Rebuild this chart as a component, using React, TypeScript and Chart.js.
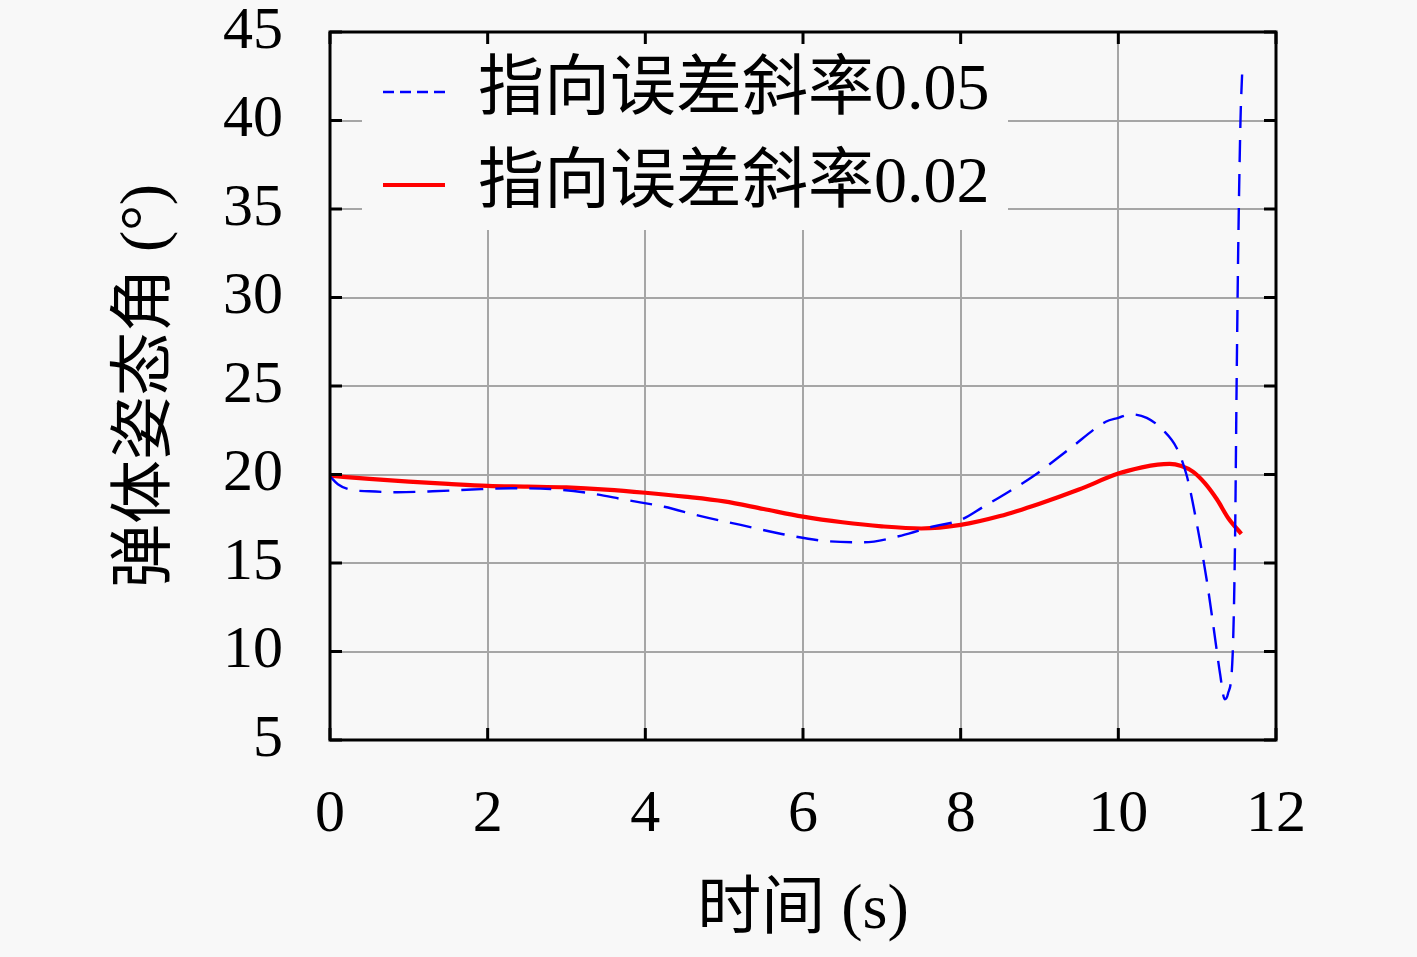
import React, { useEffect, useRef } from "react";
import { Chart, registerables } from "chart.js";

Chart.register(...registerables);

const timeSlope005 = [0, 0.1, 0.25, 0.5, 0.85, 1.3, 1.8, 2.3, 2.8, 3.3, 3.76, 4.24, 4.69, 5.21, 5.73, 6.25, 6.77, 7.25, 7.64, 8.0, 8.29, 8.6, 8.92, 9.39, 9.84, 10.0, 10.15, 10.36, 10.57, 10.74, 10.87, 10.99, 11.12, 11.21, 11.29, 11.35, 11.39, 11.45, 11.48, 11.5, 11.52, 11.55, 11.57];
const angleSlope005 = [19.9, 19.45, 19.15, 19.05, 19.0, 19.05, 19.15, 19.22, 19.18, 18.94, 18.56, 18.18, 17.66, 17.15, 16.64, 16.26, 16.17, 16.55, 17.05, 17.43, 18.18, 19.0, 19.9, 21.48, 22.98, 23.2, 23.4, 23.2, 22.5, 21.5, 19.9, 17.35, 14.07, 11.3, 8.76, 7.3, 7.6, 9.8, 16.1, 24.9, 32.5, 40.1, 42.6];

const timeSlope002 = [0, 0.5, 1.0, 1.5, 2.0, 2.5, 3.0, 3.5, 4.0, 4.5, 5.0, 5.5, 6.0, 6.5, 7.0, 7.5, 8.0, 8.5, 9.0, 9.5, 10.0, 10.3, 10.5, 10.65, 10.8, 10.95, 11.1, 11.25, 11.4, 11.56];
const angleSlope002 = [19.93, 19.75, 19.6, 19.47, 19.36, 19.32, 19.27, 19.15, 18.97, 18.75, 18.48, 18.05, 17.62, 17.3, 17.07, 16.95, 17.15, 17.65, 18.35, 19.15, 20.05, 20.4, 20.56, 20.6, 20.48, 20.15, 19.5, 18.6, 17.5, 16.65];

const seriesLabels = ["指向误差斜率0.05", "指向误差斜率0.02"];
const xTitle = "时间 (s)";
const yTitle = "弹体姿态角 (°)";
const xRange = [0, 12, 2];
const yRange = [5, 45, 5];

const FONT = "'Liberation Serif', 'Noto Sans CJK SC', serif";
const BG = "#f8f8f8";

const toPoints = (xs: number[], ys: number[]) => xs.map((x, i) => ({ x, y: ys[i] }));

const framePlugin = {
  id: "framePlugin",
  beforeDraw(chart: any) {
    const ctx = chart.ctx;
    ctx.save();
    ctx.fillStyle = BG;
    ctx.fillRect(0, 0, chart.width, chart.height);
    ctx.restore();
  },
  afterLayout(chart: any) {
    const lg = chart.legend;
    const ca = chart.chartArea;
    if (lg && ca) {
      lg.left = ca.left + 26;
      lg.top = ca.top;
      lg.right = lg.left + lg.width;
      lg.bottom = lg.top + lg.height;
    }
  },
  afterDraw(chart: any) {
    const ctx = chart.ctx;
    const ca = chart.chartArea;
    ctx.save();
    ctx.fillStyle = BG;
    ctx.fillRect(ca.left + 32, ca.top + 2, 646, 196);
    ctx.restore();
    if (chart.legend) chart.legend.draw();
    ctx.save();
    ctx.strokeStyle = "#000";
    ctx.lineWidth = 3;
    const tl = 12;
    const xs = chart.scales.x;
    const ys = chart.scales.y;
    ctx.beginPath();
    xs.ticks.forEach((t: any) => {
      const px = xs.getPixelForValue(t.value);
      ctx.moveTo(px, ca.bottom);
      ctx.lineTo(px, ca.bottom - tl);
      ctx.moveTo(px, ca.top);
      ctx.lineTo(px, ca.top + tl);
    });
    ys.ticks.forEach((t: any) => {
      const py = ys.getPixelForValue(t.value);
      ctx.moveTo(ca.left, py);
      ctx.lineTo(ca.left + tl, py);
      ctx.moveTo(ca.right, py);
      ctx.lineTo(ca.right - tl, py);
    });
    ctx.stroke();
    ctx.strokeRect(ca.left, ca.top, ca.right - ca.left, ca.bottom - ca.top);
    ctx.restore();
  },
};

export default function App() {
  const ref = useRef<HTMLCanvasElement | null>(null);
  useEffect(() => {
    document.body.style.margin = "0";
    document.body.style.background = BG;
    if (!ref.current) return;
    const defaultLabels = (Chart.defaults as any).plugins.legend.labels.generateLabels;
    const chart = new Chart(ref.current, {
      type: "line",
      data: {
        datasets: [
          {
            label: seriesLabels[0],
            data: toPoints(timeSlope005, angleSlope005),
            borderColor: "#0000ff",
            backgroundColor: "#0000ff",
            borderWidth: 2.4,
            borderDash: [22, 12],
            pointRadius: 0,
            cubicInterpolationMode: "monotone",
            fill: false,
          },
          {
            label: seriesLabels[1],
            data: toPoints(timeSlope002, angleSlope002),
            borderColor: "#ff0000",
            backgroundColor: "#ff0000",
            borderWidth: 4.2,
            pointRadius: 0,
            cubicInterpolationMode: "monotone",
            fill: false,
          },
        ],
      },
      options: {
        animation: false,
        responsive: false,
        devicePixelRatio: 1,
        layout: { padding: { left: 0, top: 32, right: 141, bottom: 0 } },
        plugins: {
          legend: {
            position: "chartArea",
            fullSize: false,
            align: "start",
            labels: {
              usePointStyle: true,
              pointStyle: "line",
              pointStyleWidth: 62,
              padding: 27,
              color: "#000",
              font: { family: FONT, size: 66, lineHeight: 1 },
              generateLabels: (c: any) =>
                defaultLabels(c).map((item: any, i: number) =>
                  i === 0 ? { ...item, lineDash: [11, 6] } : item
                ),
            },
          },
          tooltip: { enabled: false },
        },
        scales: {
          x: {
            type: "linear",
            min: xRange[0],
            max: xRange[1],
            afterFit: (s: any) => {
              s.height = 217;
              s.paddingLeft = 0;
              s.paddingRight = 0;
            },
            ticks: {
              stepSize: xRange[2],
              padding: 45,
              color: "#000",
              font: { family: FONT, size: 60, lineHeight: 1 },
              maxRotation: 0,
            },
            grid: { color: "#a6a6a6", lineWidth: 2, drawTicks: false },
            border: { display: false },
            title: {
              display: true,
              text: xTitle,
              color: "#000",
              padding: { top: 0, bottom: 14 },
              font: { family: FONT, size: 64, lineHeight: 1 },
            },
          },
          y: {
            type: "linear",
            min: yRange[0],
            max: yRange[1],
            afterFit: (s: any) => {
              s.width = 330;
              s.paddingTop = 0;
              s.paddingBottom = 0;
            },
            ticks: {
              stepSize: yRange[2],
              padding: 47,
              color: "#000",
              font: { family: FONT, size: 60, lineHeight: 1 },
            },
            grid: { color: "#a6a6a6", lineWidth: 2, drawTicks: false },
            border: { display: false },
            title: {
              display: true,
              text: yTitle,
              color: "#000",
              padding: { top: 115, bottom: 0 },
              font: { family: FONT, size: 64, lineHeight: 1 },
            },
          },
        },
      },
      plugins: [framePlugin],
    } as any);
    return () => chart.destroy();
  }, []);
  return (
    <div style={{ position: "fixed", left: 0, top: 0, width: 1417, height: 957, background: BG }}>
      <canvas ref={ref} width={1417} height={957} style={{ display: "block" }} />
    </div>
  );
}
